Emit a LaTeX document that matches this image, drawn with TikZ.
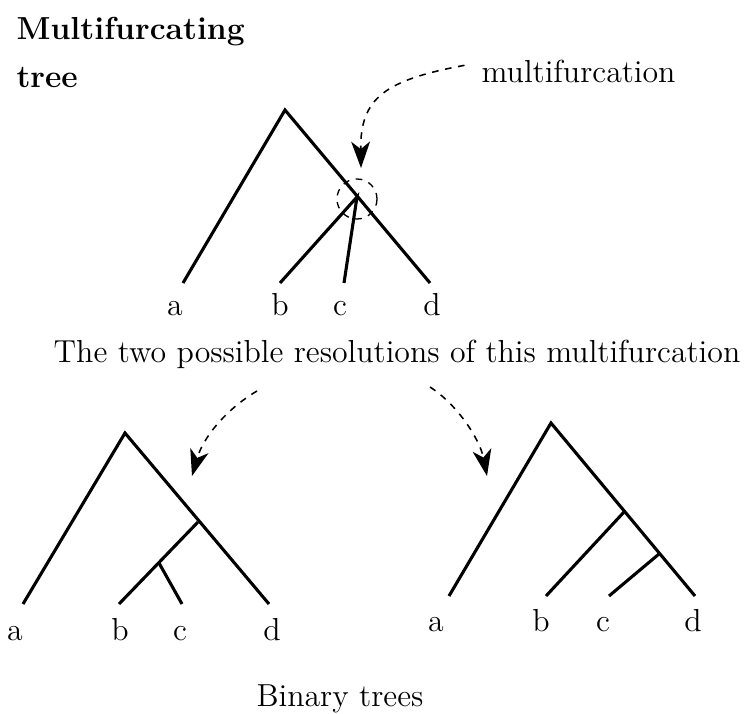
\documentclass[tikz,border=0pt]{standalone}
\usetikzlibrary{arrows.meta}

\begin{document}
\begin{tikzpicture}[x=0.159mm,y=-0.159mm,line width=1.4pt,>=Stealth,
  pointer/.style={dashed,line width=0.7pt,-{Stealth[length=4.2mm,width=3mm,inset=1.2mm]}},
  txt/.style={inner sep=0pt,font=\Large},
  leaf/.style={txt,anchor=base}]
\useasboundingbox (0,0) rectangle (755,714);

% heading
\node[anchor=base west,inner sep=0pt,font=\Large\bfseries] (head1) at (15,40) {Multifurcating};
\node[anchor=base west,inner sep=0pt,font=\Large\bfseries] (head2) at (15,88) {tree};

% multifurcating tree
\coordinate (tR) at (285,110);
\coordinate (tM) at (357,197);
\foreach \n/\x/\lx in {a/183/175,b/280/280,c/344/340,d/430/432}{
  \coordinate (t\n) at (\x,283);
  \node[leaf] (tl\n) at (\lx,315) {\n};
}
\draw (ta) -- (tR) -- (td);
\draw (tb) -- (tM) -- (tc);
\draw[dashed,line width=0.6pt] (357,199) circle[radius=20];

\node[txt,anchor=base west] (mlab) at (480,83) {multifurcation};
\coordinate (mtip) at (361,168);
\draw[pointer] ([xshift=-7pt,yshift=3pt]mlab.west) .. controls (385,80) and (360,98) .. (mtip);

\node[txt,anchor=base] (resol) at (397,362) {The two possible resolutions of this multifurcation};

% first resolution
\coordinate (lR) at (125,433);
\coordinate (lX) at (198,522);
\coordinate (lY) at (159,563);
\foreach \n/\x/\lx in {a/23/15,b/119/120,c/182/180,d/269/272}{
  \coordinate (l\n) at (\x,604);
  \node[leaf] (ll\n) at (\lx,640) {\n};
}
\draw (la) -- (lR) -- (ld);
\draw (lb) -- (lX);
\draw (lY) -- (lc);

% second resolution
\coordinate (rR) at (551,423);
\coordinate (rX) at (624,512);
\coordinate (rY) at (659,554);
\foreach \n/\x/\lx in {a/449/436,b/546/541,c/609/603,d/695/693}{
  \coordinate (r\n) at (\x,596);
  \node[leaf] (rl\n) at (\lx,631) {\n};
}
\draw (ra) -- (rR) -- (rd);
\draw (rb) -- (rX);
\draw (rc) -- (rY);

% arrows to the resolutions
\coordinate (lfrom) at (257,391);
\coordinate (lto) at (192,476);
\coordinate (rfrom) at (430,387);
\coordinate (rto) at (487,476);
\draw[pointer] (lfrom) .. controls (225,410) and (203,438) .. (lto);
\draw[pointer] (rfrom) .. controls (458,405) and (480,440) .. (rto);

\node[leaf] (binary) at (340,706) {Binary trees};
\end{tikzpicture}
\end{document}
